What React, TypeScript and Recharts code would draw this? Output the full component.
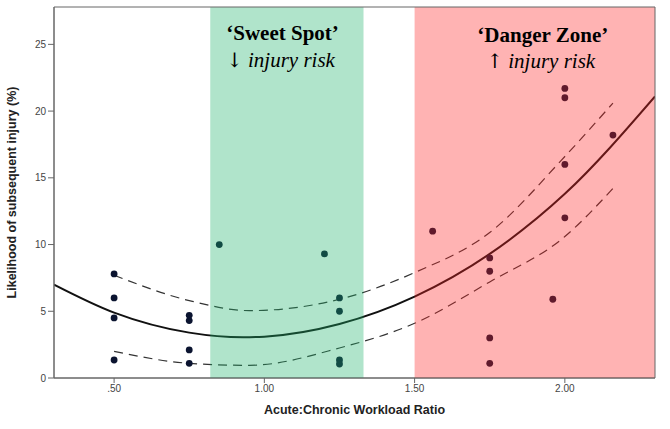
import { ComposedChart, XAxis, YAxis, Scatter, Line, ReferenceArea } from 'recharts'

// fitted curve (solid)
const fitX = [0.3, 0.5, 0.75, 0.93, 1.0, 1.25, 1.5, 1.75, 2.0, 2.3]
const fitY = [7.0, 4.9, 3.4, 3.05, 3.1, 4.05, 6.1, 9.3, 13.8, 21.1]

// 95% CI (dashed)
const ciX = [0.5, 0.75, 0.95, 1.25, 1.5, 1.75, 2.0, 2.16]
const upperCI = [7.7, 5.8, 5.05, 5.9, 7.9, 10.9, 16.6, 20.6]
const lowerCI = [2.0, 1.1, 0.95, 2.25, 4.1, 7.2, 10.6, 14.2]

// athletes
const pointX = [0.5, 0.5, 0.5, 0.5, 0.75, 0.75, 0.75, 0.75, 0.85, 1.2, 1.25, 1.25, 1.25, 1.25, 1.56, 1.75, 1.75, 1.75, 1.75, 1.96, 2.0, 2.0, 2.0, 2.0, 2.16]
const pointY = [7.8, 6.0, 4.5, 1.35, 4.7, 4.3, 2.1, 1.1, 10.0, 9.3, 6.0, 5.0, 1.35, 1.05, 11.0, 9.0, 8.0, 3.0, 1.1, 5.9, 21.7, 21.0, 16.0, 12.0, 18.2]

const xTicks = [0.5, 1.0, 1.5, 2.0]
const xTickLabels = ['.50', '1.00', '1.50', '2.00']
const yTicks = [0, 5, 10, 15, 20, 25]

const X_DOMAIN: [number, number] = [0.3, 2.3]
const Y_DOMAIN: [number, number] = [0, 27.8]
const SWEET: [number, number] = [0.82, 1.33]
const DANGER: [number, number] = [1.5, 2.3]

const fitData = fitX.map((x, i) => ({ x, y: fitY[i] }))
const upperData = ciX.map((x, i) => ({ x, y: upperCI[i] }))
const lowerData = ciX.map((x, i) => ({ x, y: lowerCI[i] }))
const pointData = pointX.map((x, i) => ({ x, y: pointY[i] }))

const SANS = '"Liberation Sans", Arial, sans-serif'
const SERIF = '"Liberation Serif", "Times New Roman", serif'
const ARROW = '"DejaVu Serif", "DejaVu Sans", serif'

function SweetLabel({ viewBox }: any) {
  const { x, y } = viewBox
  return (
    <g fontFamily={SERIF} fill="#000">
      <text x={x + 16} y={y + 33} fontSize={21} fontWeight={700}>‘Sweet Spot’</text>
      <text x={x + 16} y={y + 60} fontSize={21}>
        <tspan fontFamily={ARROW} fontSize={20} fill="#000">↓</tspan>
        <tspan fontStyle="italic" dx={5}>injury risk</tspan>
      </text>
    </g>
  )
}

function DangerLabel({ viewBox }: any) {
  const { x, y, width } = viewBox
  const cx = x + width / 2 + 8
  return (
    <g fontFamily={SERIF} fill="#000" textAnchor="middle">
      <text x={cx} y={y + 35} fontSize={21} fontWeight={700}>‘Danger Zone’</text>
      <text x={cx - 2} y={y + 61} fontSize={21}>
        <tspan fontFamily={ARROW} fontSize={20} fill="#000">↑</tspan>
        <tspan fontStyle="italic" dx={5}>injury risk</tspan>
      </text>
    </g>
  )
}

export default function App() {
  return (
    <div style={{ position: 'absolute', left: 0, top: 0, width: 670, height: 429, background: '#fff' }}>
      <ComposedChart width={670} height={429} margin={{ top: 7, right: 15, bottom: 11, left: 0 }}>
        <XAxis
          type="number"
          dataKey="x"
          domain={X_DOMAIN}
          ticks={xTicks}
          tickFormatter={(v: number) => xTickLabels[xTicks.indexOf(v)] ?? ''}
          height={40}
          tickSize={5}
          axisLine={{ stroke: '#666' }}
          tickLine={{ stroke: '#666' }}
          tick={{ fontSize: 10, fill: '#444', fontFamily: SANS }}
          allowDataOverflow
          label={{
            value: 'Acute:Chronic Workload Ratio',
            position: 'insideBottom',
            offset: 4,
            style: { fontSize: 12.5, fontWeight: 700, fill: '#222', fontFamily: SANS },
          }}
        />
        <YAxis
          type="number"
          dataKey="y"
          domain={Y_DOMAIN}
          ticks={yTicks}
          width={54}
          tickSize={6}
          axisLine={{ stroke: '#666' }}
          tickLine={{ stroke: '#666' }}
          tick={{ fontSize: 10, fill: '#444', fontFamily: SANS }}
          allowDataOverflow
          label={{
            value: 'Likelihood of subsequent injury (%)',
            angle: -90,
            position: 'insideLeft',
            offset: 12,
            style: { fontSize: 12.5, fontWeight: 700, fill: '#222', fontFamily: SANS, textAnchor: 'middle' },
          }}
        />

        <Scatter data={pointData} dataKey="y" fill="#0b1430" isAnimationActive={false}
          shape={(p: any) => <circle cx={p.cx} cy={p.cy} r={3.4} fill="#0b1430" />} />

        <Line data={fitData} dataKey="y" type="monotone" stroke="#111" strokeWidth={2} dot={false} activeDot={false} isAnimationActive={false} />
        <Line data={upperData} dataKey="y" type="monotone" stroke="#333" strokeWidth={1.2} strokeDasharray="9 6" dot={false} activeDot={false} isAnimationActive={false} />
        <Line data={lowerData} dataKey="y" type="monotone" stroke="#333" strokeWidth={1.2} strokeDasharray="9 6" dot={false} activeDot={false} isAnimationActive={false} />

        <ReferenceArea x1={SWEET[0]} x2={SWEET[1]} y1={Y_DOMAIN[0]} y2={Y_DOMAIN[1]} fill="#1db36a" fillOpacity={0.35} stroke="none" zIndex={700}
          label={{ content: SweetLabel }} />
        <ReferenceArea x1={DANGER[0]} x2={DANGER[1]} y1={Y_DOMAIN[0]} y2={Y_DOMAIN[1]} fill="#ff2525" fillOpacity={0.35} stroke="none" zIndex={700}
          label={{ content: DangerLabel }} />
        <ReferenceArea x1={X_DOMAIN[0]} x2={X_DOMAIN[1]} y1={Y_DOMAIN[0]} y2={Y_DOMAIN[1]} fill="none" stroke="#666" strokeWidth={1} zIndex={710} />
      </ComposedChart>
    </div>
  )
}
